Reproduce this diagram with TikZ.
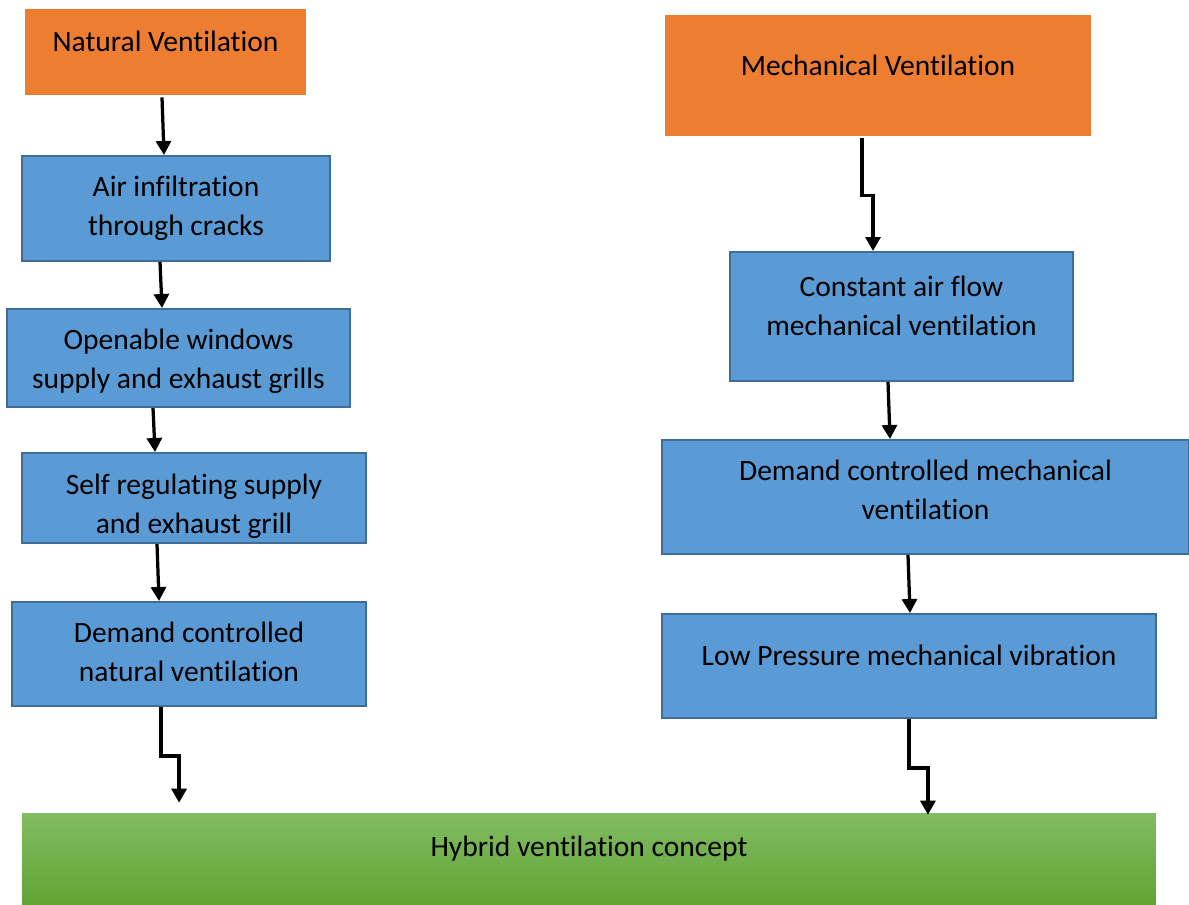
\documentclass[tikz,border=0pt]{standalone}
\usepackage{fontspec}
\setmainfont{Carlito}[Ligatures={NoCommon}]
\usetikzlibrary{arrows.meta,positioning}
\definecolor{natorange}{HTML}{ED7D31}
\definecolor{stageblue}{HTML}{5B9BD5}
\definecolor{stageedge}{HTML}{3F6D98}
\definecolor{hybtop}{HTML}{82BB63}
\definecolor{hybbot}{HTML}{61A433}
\tikzset{head node/.style={rectangle,fill=natorange,draw=none,inner sep=0pt},
         stage node/.style={rectangle,fill=stageblue,draw=stageedge,line width=0.04cm,inner sep=0pt},
         hybrid node/.style={rectangle,top color=hybtop,bottom color=hybbot,draw=none,inner sep=0pt},
         caption/.style={align=center,font=\fontsize{16.8}{22.2}\selectfont,inner sep=0pt},
         flow/.style={->,line width=0.065cm},
}

\begin{document}
\begin{tikzpicture}[>={Triangle[length=0.28cm,width=0.3cm]},
x=0.02cm, y=-0.02cm]
\useasboundingbox (0,0) rectangle (1189,905);

% natural branch
\node[head node,minimum width=5.62cm,minimum height=1.72cm,
      label={[caption,yshift=0.22cm]center:Natural Ventilation}] (nat) at (165.5,52) {};
\node[stage node,minimum width=6.16cm,minimum height=2.1cm,
      label={[caption]center:{Air infiltration\\through cracks}}] (ai) at (176,208.5) {};
\node[stage node,minimum width=6.86cm,minimum height=1.96cm,
      label={[caption,yshift=-0.06cm]center:{Openable windows\\supply and exhaust grills}}] (ow) at (178.5,358) {};
\node[stage node,minimum width=6.88cm,minimum height=1.8cm,
      label={[caption,yshift=-0.17cm]center:{Self regulating supply\\and exhaust grill}}] (sr) at (194,498) {};
\node[stage node,minimum width=7.08cm,minimum height=2.08cm,
      label={[caption,yshift=0.04cm]center:{Demand controlled\\natural ventilation}}] (dcn) at (189,654) {};

% mechanical branch
\node[head node,minimum width=8.52cm,minimum height=2.42cm,
      label={[caption,yshift=0.21cm]center:Mechanical Ventilation}] (mech) at (878,75.5) {};
\node[stage node,minimum width=6.86cm,minimum height=2.58cm,
      label={[caption,yshift=0.22cm]center:{Constant air flow\\mechanical ventilation}}] (caf) at (901.5,316.5) {};
\node[stage node,minimum width=10.54cm,minimum height=2.28cm,
      label={[caption,yshift=0.15cm]center:{Demand controlled mechanical\\ventilation}}] (dcm) at (925.5,497) {};
\node[stage node,minimum width=9.88cm,minimum height=2.08cm,
      label={[caption,yshift=0.22cm]center:Low Pressure mechanical vibration}] (lp) at (909,666) {};

% common target
\node[hybrid node,minimum width=22.68cm,minimum height=1.84cm,
      label={[caption,yshift=0.2cm]center:Hybrid ventilation concept}] (hyb) at (589,859) {};

\draw[flow] ([xshift=-0.07cm,yshift=-0.04cm]nat.south) -- ([xshift=-0.24cm]ai.north);
\draw[flow] ([xshift=-0.32cm]ai.south) -- ([xshift=-0.33cm]ow.north);
\draw[flow] ([xshift=-0.51cm]ow.south) -- ([xshift=-0.78cm]sr.north);
\draw[flow] ([xshift=-0.74cm]sr.south) -- ([xshift=-0.6cm]dcn.north);
\draw[flow] ([xshift=-0.56cm]dcn.south) -- ++(0,49) -| ([xshift=-8.2cm,yshift=0.2cm]hyb.north);

\draw[flow] ([xshift=-0.32cm,yshift=-0.04cm]mech.south) -- ++(0,57) -| ([xshift=-0.57cm]caf.north);
\draw[flow] ([xshift=-0.27cm]caf.south) -- ([xshift=-0.71cm]dcm.north);
\draw[flow] ([xshift=-0.35cm]dcm.south) -- ([xshift=0.02cm]lp.north);
\draw[flow] (lp.south) -- ++(0,49) -| ([xshift=6.78cm,yshift=-0.04cm]hyb.north);
\end{tikzpicture}
\end{document}
